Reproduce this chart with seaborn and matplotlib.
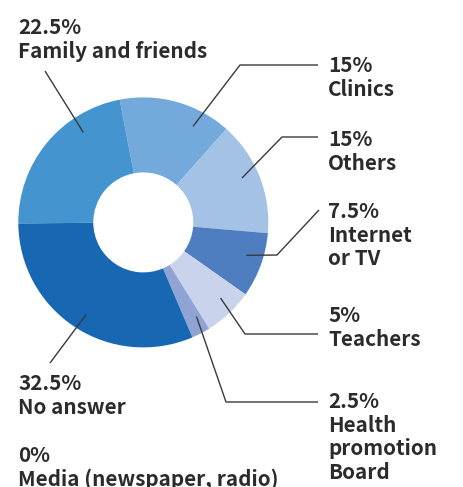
import matplotlib
matplotlib.use("Agg")
import matplotlib.pyplot as plt
import seaborn as sns
import numpy as np

# ---- data ----
categories = ["Clinics", "Others", "Internet\nor TV", "Teachers",
              "Health\npromotion\nBoard", "No answer", "Family and friends",
              "Media (newspaper, radio)"]
# wedge sizes as drawn in the picture (degrees of arc, in %)
values = [14.6, 14.8, 8.4, 6.4, 2.4, 31.3, 22.1, 0]
pct_labels = ["15%", "15%", "7.5%", "5%", "2.5%", "32.5%", "22.5%", "0%"]
colors = ["#73A9DB", "#A3C2E5", "#4E7DC0", "#CAD3EC", "#8FA4D5",
          "#1767B3", "#4494D0", "#1767B3"]

sns.set_theme(style="white")
plt.rcParams['font.family'] = ['Noto Sans CJK JP', 'DejaVu Sans']

W, H = 463, 487
fig = plt.figure(figsize=(W / 100, H / 100), dpi=100)
ax = fig.add_axes([0, 0, 1, 1])

def Y(py):
    return H - py

cx, cy, R = 143.3, Y(222.4), 125
wedges, _ = ax.pie(values, colors=colors, startangle=100.9, counterclock=False,
                   center=(cx, cy), radius=R, frame=True,
                   wedgeprops=dict(width=0.6 * R, edgecolor="none", linewidth=0))
ax.set_xlim(0, W)
ax.set_ylim(0, H)
ax.axis("off")

txt_color = "#2b2b2b"
fs = 14.9
lstep = 23.7

# layout: anchor angle delta (deg, + = clockwise), elbow points (pixel coords), text x, first baseline
layout = {
    0: dict(d=12.0, path=[(240, 65), (318, 65)], tx=328, ty=72),
    1: dict(d=-2.5, path=[(282, 137), (318, 137)], tx=328, ty=146),
    2: dict(d=-2.3, path=[(277, 255), (319, 210)], tx=328, ty=218),
    3: dict(d=-2.3, path=[(245, 334), (318, 334)], tx=328, ty=322),
    4: dict(d=-2.0, path=[(226, 402), (318, 402)], tx=328, ty=408),
    5: dict(d=-1.4, path=[(50, 363)], tx=18, ty=390),
    6: dict(d=17.0, path=[(45, 71)], tx=18, ty=34),
    7: dict(d=None, path=[], tx=18, ty=462),
}

for i, w in enumerate(wedges):
    L = layout[i]
    if L["d"] is not None:
        mid = 0.5 * (w.theta1 + w.theta2) - L["d"]
        ar = 0.865 * R
        ax_ = cx + ar * np.cos(np.radians(mid))
        ay_ = cy + ar * np.sin(np.radians(mid))
        xs = [ax_] + [p[0] for p in L["path"]]
        ys = [ay_] + [Y(p[1]) for p in L["path"]]
        ax.plot(xs, ys, color="#3a3a3a", lw=1.0, solid_capstyle="butt")
    lines = [pct_labels[i]] + categories[i].split("\n")
    for k, s in enumerate(lines):
        ax.text(L["tx"], Y(L["ty"] + k * lstep), s, fontsize=fs,
                fontweight="bold", color=txt_color, ha="left", va="baseline")

fig.savefig("out.png", dpi=100)
